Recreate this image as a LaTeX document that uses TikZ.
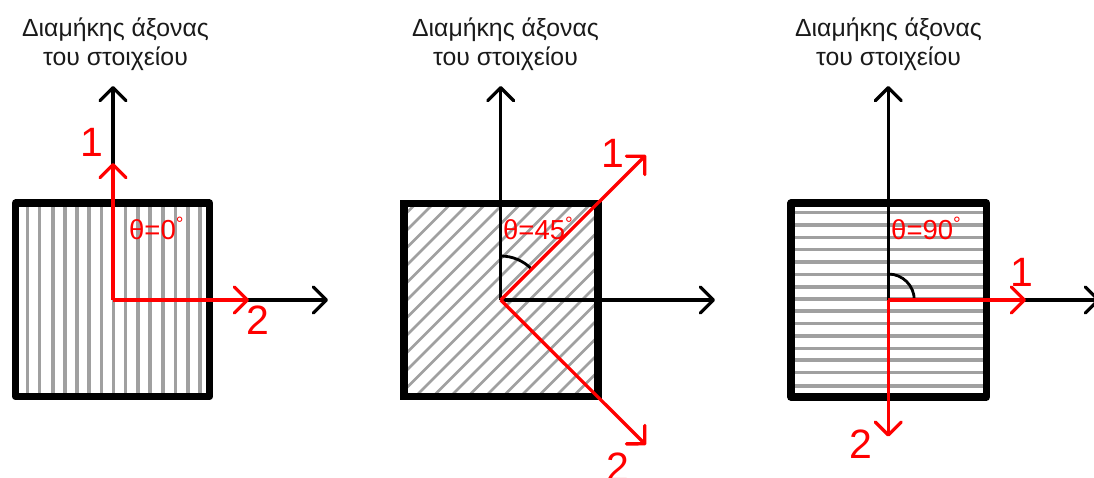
\documentclass[tikz,border=0pt]{standalone}
\usepackage{fontspec}
\setmainfont{Liberation Sans}
\usetikzlibrary{arrows.meta}
\definecolor{fibgray}{HTML}{A0A0A0}
\definecolor{dirred}{HTML}{FF0000}
\definecolor{txtblack}{HTML}{1A1A1A}
\tikzset{
  axisarrow/.style={draw=black, line width=3.3pt, -{Straight Barb[length=13pt, width=26pt, round]}},
  redarrow/.style={draw=dirred, line width=3.3pt, -{Straight Barb[length=13pt, width=26pt, round]}},
  fibre/.style={fibgray, line width=3.6pt},
  hatchfibre/.style={fibgray, line width=2.6pt},
  plate/.style={draw=black, line width=7.6pt},
  axistitle/.style={font=\fontsize{24.8}{29}\selectfont, text=txtblack, align=center},
  anglelabel/.style={font=\fontsize{27.5}{30}\selectfont, text=dirred, inner sep=0pt},
  dirlabel/.style={font=\fontsize{41}{44}\selectfont, text=dirred, inner sep=0pt},
  anglearc/.style={draw=black, line width=2.8pt}
}
\newcommand{\axistext}{Διαμήκης άξονας\\του στοιχείου}
\begin{document}
\begin{tikzpicture}[x=1pt, y=-1pt]
\useasboundingbox (0,0) rectangle (1094,477);

% Left panel: fibres along the long axis
\node[axistitle] (titleA) at (115.5,44.5) {\axistext};
\coordinate (oA) at (113,300);
\coordinate (upA) at (113,86);
\coordinate (rightA) at (328,300);
\foreach \fx in {27.3,39.5,52.7,64.7,76.7,88.7,101.3,113.3,125.3,138,150,162.7,175.3,188,200} {
  \draw[fibre] (\fx,205) -- (\fx,395);
}
\draw[plate, line join=round] (15.5,203.2) rectangle (209.5,396.5);
\draw[axisarrow] (oA) -- (upA);
\draw[axisarrow] (oA) -- (rightA);
\coordinate (oneA) at (113,163);
\coordinate (twoA) at (249,300);
\draw[redarrow] (oA) -- (oneA);
\draw[redarrow] (oA) -- (twoA);
\node[dirlabel] (lblOneA) at (92,142) {1};
\node[dirlabel] (lblTwoA) at (258,320) {2};
\node[anglelabel, anchor=west] (angA) at (129,228) {θ=0\textsuperscript{°}};

% Middle panel: fibres at 45 degrees
\node[axistitle] (titleB) at (505.5,44.5) {\axistext};
\coordinate (oB) at (500.7,300);
\coordinate (upB) at (500.7,86);
\coordinate (rightB) at (715,300);
\begin{scope}
  \clip (404,204) rectangle (598,396);
  \foreach \fs in {602,619.5,...,1005} {
    \draw[hatchfibre] (\fs-420,420) -- (\fs-190,190);
  }
\end{scope}
\draw[plate, line join=miter] (404.2,203.5) rectangle (598.2,396.5);
\draw[axisarrow] (oB) -- (upB);
\draw[axisarrow] (oB) -- (rightB);
\draw[anglearc] (500.7,256) arc[start angle=-90, end angle=-45, radius=43];
\coordinate (oneB) at (646,155);
\coordinate (twoB) at (646,445);
\draw[redarrow] (oB) -- (oneB);
\draw[redarrow] (oB) -- (twoB);
\node[dirlabel] (lblOneB) at (613,153) {1};
\node[dirlabel] (lblTwoB) at (618,467) {2};
\node[anglelabel, anchor=west] (angB) at (503,228) {θ=45\textsuperscript{°}};

% Right panel: fibres across the long axis
\node[axistitle] (titleC) at (888.5,44.5) {\axistext};
\coordinate (oC) at (888.3,300);
\coordinate (upC) at (888.3,86);
\coordinate (rightC) at (1100,300);
\foreach \fy in {212.3,225,237.3,249.3,261.7,274.3,286.7,299,311,323.3,336,348.3,360,372.3,385.7} {
  \draw[fibre] (790,\fy) -- (988,\fy);
}
\draw[plate, line join=round] (791,203.2) rectangle (986.3,397);
\draw[axisarrow] (oC) -- (upC);
\draw[axisarrow] (oC) -- (rightC);
\draw[anglearc] (888.3,274) arc[start angle=-90, end angle=0, radius=26];
\coordinate (oneC) at (1026,300);
\coordinate (twoC) at (888.3,436.7);
\draw[redarrow] (oC) -- (oneC);
\draw[redarrow] (oC) -- (twoC);
\node[dirlabel] (lblOneC) at (1022,272) {1};
\node[dirlabel] (lblTwoC) at (861,444) {2};
\node[anglelabel, anchor=west] (angC) at (891,228) {θ=90\textsuperscript{°}};

\end{tikzpicture}
\end{document}
